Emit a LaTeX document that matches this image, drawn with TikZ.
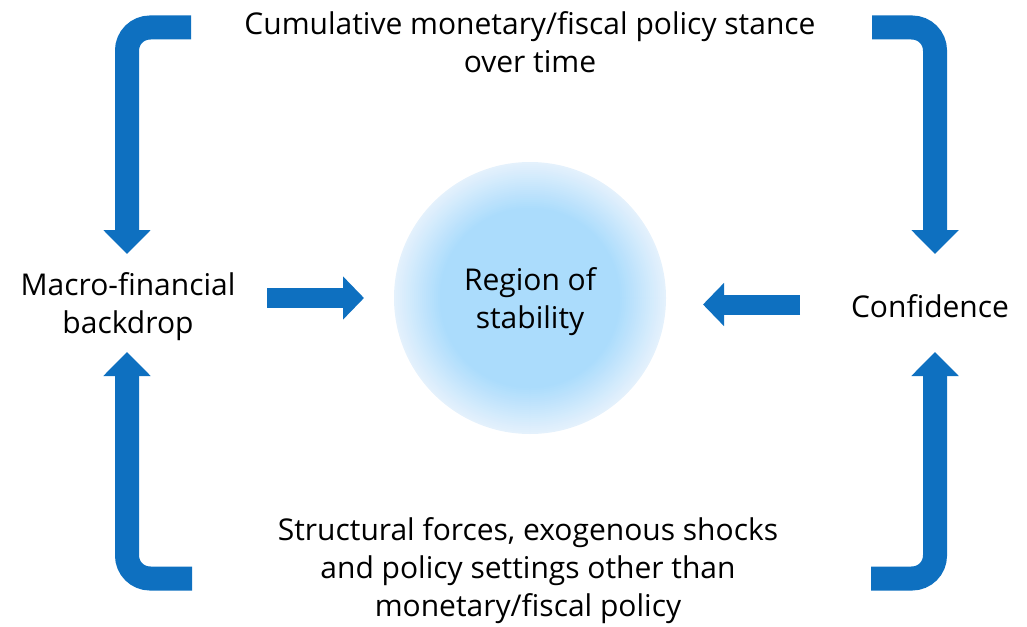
\documentclass[tikz,border=0pt]{standalone}
\usepackage{fontspec}
\setmainfont{Open Sans}
\usepackage{tikz}
\usetikzlibrary{arrows.meta}
\usepackage{xcolor}

\definecolor{flowblue}{HTML}{0E70C0}
\definecolor{glowin}{HTML}{ABDCFC}
\definecolor{glowout}{HTML}{E4F1FC}

\begin{document}
\begin{tikzpicture}[x=1pt,y=-1pt,
  lbl/.style={font=\fontsize{30}{38}\selectfont,align=center,inner sep=0pt},
  loop/.style={draw=flowblue,line width=24pt,rounded corners=23pt,-{Triangle[width=46pt,length=24pt]}},
  push/.style={draw=flowblue,line width=20pt,-{Triangle[width=42pt,length=21pt]}}]
\useasboundingbox (0,0) rectangle (1027,626);
\node[circle,minimum size=272pt] (core) at (530,298) {};
% soft glow: rings getting darker towards the middle
\foreach \i in {0,...,23}
  \pgfmathsetmacro{\pct}{100*\i/23}
  \fill[glowin!\pct!glowout] (core.center) circle ({136-2*\i});
\node[lbl] (region) at (530,302) {Region of\\stability};
\node[lbl] (stance) at (530,42) {Cumulative monetary/fiscal policy stance\\over time};
\node[lbl] (forces) at (528,571) {Structural forces, exogenous shocks\\and policy settings other than\\monetary/fiscal policy};
\node[lbl] (macro) at (128,307) {Macro-financial\\backdrop};
\node[lbl] (conf) at (930,306) {Confidence};
% arrow ends
\coordinate (tl) at (191,27.5);
\coordinate (tr) at (872,27.5);
\coordinate (bl) at (192,578.5);
\coordinate (br) at (871,578.5);
\coordinate (mtop) at (127,254);
\coordinate (mbot) at (127,352);
\coordinate (ctop) at (935,254);
\coordinate (cbot) at (935,352);
\coordinate (mout) at (267,298);
\coordinate (min) at (364,298);
\coordinate (cout) at (800,304.5);
\coordinate (cin) at (703,304.5);
\draw[loop] (tl) -| (mtop);
\draw[loop] (tr) -| (ctop);
\draw[loop] (bl) -| (mbot);
\draw[loop] (br) -| (cbot);
\draw[push] (mout) -- (min);
\draw[push] (cout) -- (cin);
\end{tikzpicture}
\end{document}
